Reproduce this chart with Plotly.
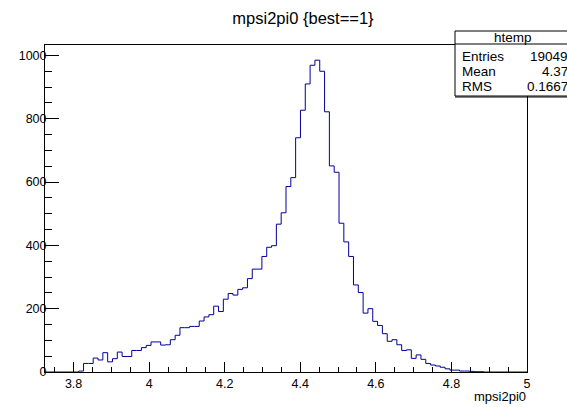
import numpy as np
import plotly.graph_objects as go

# histogram binning (100 bins)
x_min = 3.7244
x_max = 5.0
n_bins = 100

# bin contents, bin 0 .. 99
counts = [
    0, 0, 0, 0, 0, 0, 0, 3, 27, 27,
    44, 38, 61, 32, 42, 63, 49, 49, 68, 68,
    77, 84, 95, 95, 85, 86, 102, 116, 140, 140,
    144, 144, 161, 174, 181, 208, 191, 230, 248, 243,
    261, 266, 295, 325, 325, 365, 394, 399, 467, 503,
    586, 614, 740, 827, 910, 969, 985, 950, 822, 651,
    631, 470, 411, 365, 275, 251, 186, 200, 160, 147,
    121, 97, 102, 86, 68, 70, 43, 54, 40, 27,
    22, 19, 15, 10, 6, 6, 3, 3, 2, 1,
    1, 0, 0, 0, 0, 0, 0, 0, 0, 0,
]

stats_labels = ["Entries", "Mean", "RMS"]
stats_values = ["19049", "4.37", "0.1667"]

FONT = "Liberation Sans, Arial, Helvetica, sans-serif"
LINE_BLUE = "#000099"

edges = np.linspace(x_min, x_max, n_bins + 1)
step_y = counts + [counts[-1]]

fig = go.Figure()
fig.add_trace(go.Scatter(
    x=edges,
    y=step_y,
    mode="lines",
    line=dict(color=LINE_BLUE, width=1, shape="hv"),
    hoverinfo="skip",
    showlegend=False,
))

# plot area in pixels: left 45, right 527, top 45, bottom 372
L, R, T, B = 45, 40, 45, 35
W, H = 567, 407
pw = W - L - R
ph = H - T - B


def px_x(p):
    return (p - L) / pw


def px_y(p):
    return (H - B - p) / ph


fig.update_layout(
    width=W,
    height=H,
    margin=dict(l=L, r=R, t=T, b=B),
    paper_bgcolor="white",
    plot_bgcolor="white",
    font=dict(family=FONT, size=12.5, color="black"),
    title=dict(
        text="mpsi2pi0 {best==1}",
        x=303 / W, xanchor="center",
        y=1 - 18 / H, yanchor="middle",
        font=dict(size=16.5, family=FONT),
    ),
    showlegend=False,
)

fig.update_xaxes(
    range=[x_min, x_max],
    showgrid=False, zeroline=False,
    showline=True, linecolor="black", linewidth=1, mirror=True,
    ticks="inside", ticklen=10, tickcolor="black", tickwidth=1,
    tickvals=[3.8, 4.0, 4.2, 4.4, 4.6, 4.8, 5.0],
    ticktext=["3.8", "4", "4.2", "4.4", "4.6", "4.8", "5"],
    minor=dict(ticks="inside", ticklen=5, tickcolor="black",
               tick0=3.75, dtick=0.05, showgrid=False),
    tickfont=dict(size=12.5),
)

fig.update_yaxes(
    range=[0, 1033],
    showgrid=False, zeroline=False,
    showline=True, linecolor="black", linewidth=1, mirror=True,
    ticks="inside", ticklen=14, tickcolor="black", tickwidth=1,
    tick0=0, dtick=200,
    ticklabelstandoff=-5,
    minor=dict(ticks="inside", ticklen=7, tickcolor="black",
               tick0=0, dtick=50, showgrid=False),
    tickfont=dict(size=12.5),
)

# x axis title, right aligned at the frame edge
fig.add_annotation(
    text="mpsi2pi0", xref="paper", yref="paper",
    x=px_x(528), y=px_y(397), xanchor="right", yanchor="middle",
    showarrow=False, font=dict(size=13),
)

# stats box
bx0, bx1 = px_x(455), px_x(570)
by_top, by_head, by_bot = px_y(31), px_y(44), px_y(96)
fig.add_shape(type="rect", xref="paper", yref="paper",
              x0=bx0, x1=bx1, y0=by_bot, y1=by_top,
              line=dict(color="black", width=1), fillcolor="white",
              layer="above")
fig.add_shape(type="line", xref="paper", yref="paper",
              x0=bx0, x1=bx1, y0=by_head, y1=by_head,
              line=dict(color="black", width=1), layer="above")
fig.add_shape(type="line", xref="paper", yref="paper",
              x0=bx0, x1=bx1, y0=px_y(97), y1=px_y(97),
              line=dict(color="black", width=1), layer="above")

fig.add_annotation(
    text="htemp", xref="paper", yref="paper",
    x=px_x(513), y=px_y(37.5), xanchor="center", yanchor="middle",
    showarrow=False, font=dict(size=13.5),
)

row_y = [56.5, 71.5, 86]
for label, value, ry in zip(stats_labels, stats_values, row_y):
    fig.add_annotation(
        text=label, xref="paper", yref="paper",
        x=px_x(460), y=px_y(ry), xanchor="left", yanchor="middle",
        showarrow=False, font=dict(size=13.5),
    )
    fig.add_annotation(
        text=value, xref="paper", yref="paper",
        x=px_x(570), y=px_y(ry), xanchor="right", yanchor="middle",
        showarrow=False, font=dict(size=13.5),
    )

# drop the page's default body margin so the figure sits at the window corner
fig.write_html(
    "out.html",
    config={"displayModeBar": False},
    post_script="document.body.style.margin='0px';",
)
